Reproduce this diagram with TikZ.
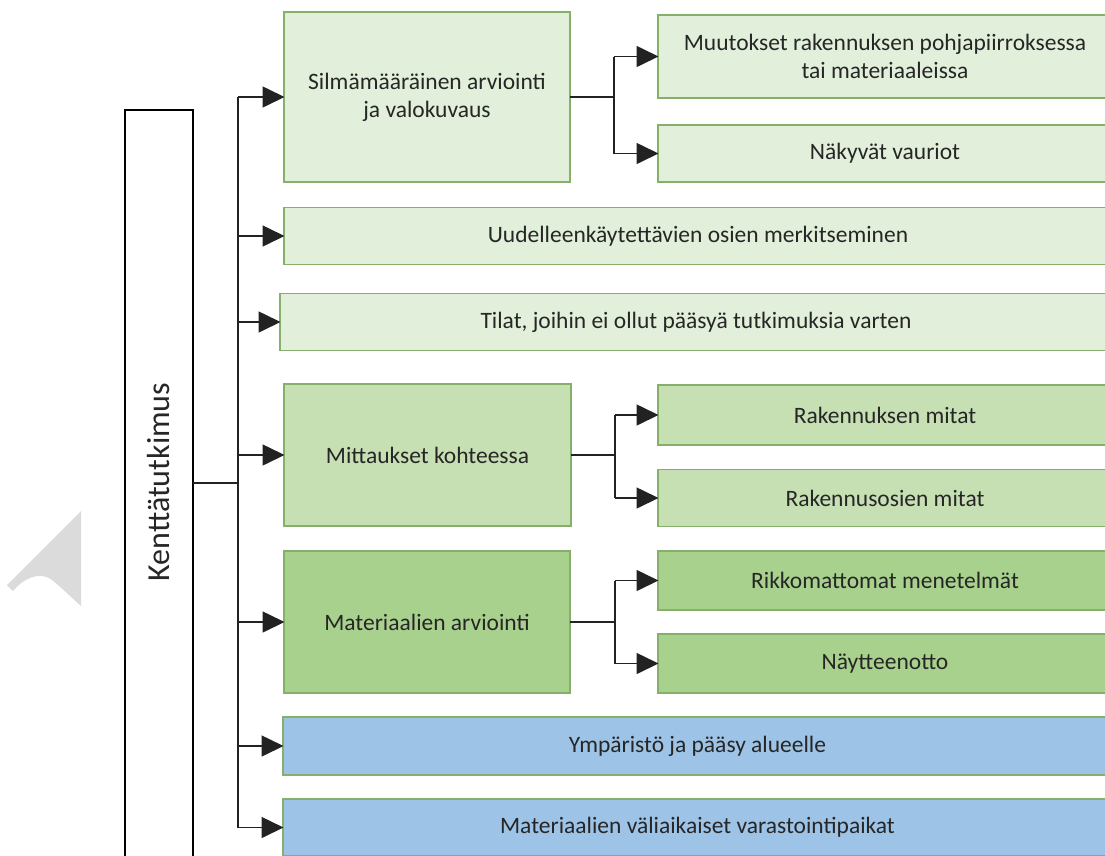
\documentclass[tikz,border=0pt]{standalone}
\usepackage{fontspec}
\setmainfont{Carlito}
\usetikzlibrary{arrows.meta}
\definecolor{paleG}{HTML}{E2EFDA}
\definecolor{midG}{HTML}{C6E0B4}
\definecolor{deepG}{HTML}{A9D18E}
\definecolor{skyB}{HTML}{9DC3E6}
\definecolor{rimG}{HTML}{86B06A}
\definecolor{inkT}{HTML}{262626}
\definecolor{wire}{HTML}{222222}
\begin{document}
\begin{tikzpicture}[x=1pt,y=-1pt,
  box/.style={draw=rimG, line width=1.2pt, inner sep=0pt, outer sep=0pt,
    text=inkT, font=\fontsize{23.5}{28}\selectfont, align=center},
  rootbox/.style={draw=black, line width=1.3pt, fill=white, inner sep=0pt, outer sep=0pt},
  link/.style={draw=wire, line width=1.6pt},
  arr/.style={link, -{Triangle[length=22pt,width=21pt]}, shorten >=-0.5pt}
]
\useasboundingbox (0,0) rectangle (1105,855);
\fill[white] (0,0) rectangle (1105,855);

% faint mark at the left margin
\fill[gray!28] (81,511) -- (7,585) -- (13,591) .. controls (22,580) and (38,570) .. (52,580)
  .. controls (62,588) and (72,598) .. (81,606) -- cycle;

% root box, running past the lower edge
\node[rootbox, minimum width=68pt, minimum height=760pt] (root) at (159,490) {};
\node[rotate=90, text=inkT, font=\fontsize{32}{38}\selectfont] (roottext) at (159,482) {Kenttätutkimus};

% first level
\node[box, fill=paleG, minimum width=286pt, minimum height=170pt] (silma) at (427,97)
  {Silmämääräinen arviointi\\ja valokuvaus};
\node[box, fill=paleG, minimum width=828pt, minimum height=57pt] (uud) at (698,236)
  {Uudelleenkäytettävien osien merkitseminen};
\node[box, fill=paleG, minimum width=832pt, minimum height=57pt] (tilat) at (696,322)
  {Tilat, joihin ei ollut pääsyä tutkimuksia varten};
\node[box, fill=midG, minimum width=287pt, minimum height=142pt] (mitt) at (427.5,455)
  {Mittaukset kohteessa};
\node[box, fill=deepG, minimum width=286pt, minimum height=142pt] (mater) at (427,622)
  {Materiaalien arviointi};
\node[box, fill=skyB, minimum width=829pt, minimum height=58pt] (ymp) at (697.5,746)
  {Ympäristö ja pääsy alueelle};
\node[box, fill=skyB, minimum width=829pt, minimum height=57pt] (vali) at (697.5,827.5)
  {Materiaalien väliaikaiset varastointipaikat};

% second level
\node[box, fill=paleG, minimum width=454pt, minimum height=83pt] (muut) at (885,56.5)
  {Muutokset rakennuksen pohjapiirroksessa\\tai materiaaleissa};
\node[box, fill=paleG, minimum width=454pt, minimum height=57pt] (nakyv) at (885,153.5)
  {Näkyvät vauriot};
\node[box, fill=midG, minimum width=454pt, minimum height=60pt] (rak1) at (885,415)
  {Rakennuksen mitat};
\node[box, fill=midG, minimum width=454pt, minimum height=57pt] (rak2) at (885,498)
  {Rakennusosien mitat};
\node[box, fill=deepG, minimum width=454pt, minimum height=59pt] (rikk) at (885,580.5)
  {Rikkomattomat menetelmät};
\node[box, fill=deepG, minimum width=454pt, minimum height=59pt] (nayt) at (885,663.5)
  {Näytteenotto};

% main trunk
\coordinate (t0) at (238,483);
\draw[link] (root.east |- t0) -- (t0);
\draw[link] (silma.west -| t0) -- (vali.west -| t0);
\foreach \n in {silma,uud,tilat,mitt,mater,ymp,vali}
  \draw[arr] (\n.west -| t0) -- (\n.west);

% sub branches
\coordinate (j1) at (614,97);
\draw[link] (silma.east) -- (j1);
\draw[link] (muut.west -| j1) -- (nakyv.west -| j1);
\draw[arr] (muut.west -| j1) -- (muut.west);
\draw[arr] (nakyv.west -| j1) -- (nakyv.west);

\coordinate (j2) at (615,455);
\draw[link] (mitt.east) -- (j2);
\draw[link] (rak1.west -| j2) -- (rak2.west -| j2);
\draw[arr] (rak1.west -| j2) -- (rak1.west);
\draw[arr] (rak2.west -| j2) -- (rak2.west);

\coordinate (j3) at (615,622);
\draw[link] (mater.east) -- (j3);
\draw[link] (rikk.west -| j3) -- (nayt.west -| j3);
\draw[arr] (rikk.west -| j3) -- (rikk.west);
\draw[arr] (nayt.west -| j3) -- (nayt.west);
\end{tikzpicture}
\end{document}
